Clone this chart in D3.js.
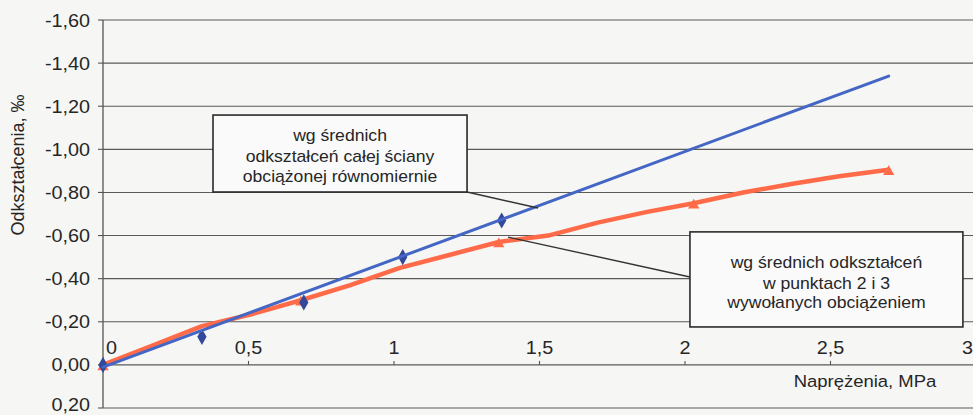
<!DOCTYPE html>
<html><head><meta charset="utf-8">
<script src="https://cdn.jsdelivr.net/npm/d3@7"></script>
<style>
html,body{margin:0;padding:0;background:#f6f6f4;}
svg{display:block;}
text{font-family:"Liberation Sans",Arial,sans-serif;fill:#262626;}
</style></head>
<body>
<svg id="c" width="973" height="415"></svg>
<script>
// ---- data ----
const xTicks = [0, 0.5, 1, 1.5, 2, 2.5, 3];
const xTickLabels = ["0", "0,5", "1", "1,5", "2", "2,5", "3"];
const yTicks = [-1.6, -1.4, -1.2, -1.0, -0.8, -0.6, -0.4, -0.2, 0, 0.2];
const yTickLabels = ["-1,60", "-1,40", "-1,20", "-1,00", "-0,80", "-0,60", "-0,40", "-0,20", "0,00", "0,20"];

const blueStress = [0, 0.34, 0.69, 1.03, 1.37];
const blueStrain = [0, -0.13, -0.29, -0.50, -0.67];
const blueTrendStress = [0, 2.70];
const blueTrendStrain = [0.01, -1.34];

const orangeStress = [0, 0.17, 0.34, 0.51, 0.68, 0.85, 1.02, 1.19, 1.36, 1.53, 1.70, 1.87, 2.03, 2.20, 2.37, 2.53, 2.70];
const orangeStrain = [0, -0.09, -0.18, -0.235, -0.30, -0.37, -0.45, -0.51, -0.57, -0.60, -0.66, -0.71, -0.75, -0.80, -0.84, -0.875, -0.905];
const orangeMarkerIdx = [0, 4, 8, 12, 16];

const xTitle = "Naprężenia, MPa";
const yTitle = "Odkształcenia, ‰";
const box1Lines = ["wg średnich", "odkształceń całej ściany", "obciążonej równomiernie"];
const box2Lines = ["wg średnich odkształceń", "w punktach 2 i 3", "wywołanych obciążeniem"];

// ---- layout ----
const svg = d3.select("#c");
const x = d3.scaleLinear().domain([0, 3]).range([103, 976]);
const y = d3.scaleLinear().domain([-1.6, 0.2]).range([20, 408]);
const SX = 1.1; // horizontal stretch of scanned text

function stxt(g, px, py, str, size, anchor) {
  return g.append("text")
    .attr("transform", `translate(${px},${py}) scale(${SX},1)`)
    .attr("text-anchor", anchor || "middle")
    .style("font-size", size + "px")
    .text(str);
}

// gridlines
svg.append("g").selectAll("line").data(yTicks).join("line")
  .attr("x1", x(0)).attr("x2", 973)
  .attr("y1", d => y(d)).attr("y2", d => y(d))
  .attr("stroke", "#5a5a5a").attr("stroke-width", 1.1);

// y axis line + ticks
svg.append("line").attr("x1", x(0)).attr("x2", x(0)).attr("y1", y(-1.6)).attr("y2", y(0.2))
  .attr("stroke", "#555").attr("stroke-width", 1.3);
svg.append("g").selectAll("line").data(yTicks).join("line")
  .attr("x1", x(0) - 5).attr("x2", x(0)).attr("y1", d => y(d)).attr("y2", d => y(d))
  .attr("stroke", "#555").attr("stroke-width", 1.1);

// x ticks on zero line
svg.append("g").selectAll("line").data(xTicks).join("line")
  .attr("x1", d => x(d)).attr("x2", d => x(d)).attr("y1", y(0) - 4).attr("y2", y(0))
  .attr("stroke", "#555").attr("stroke-width", 1.1);

// y tick labels
const gy = svg.append("g");
yTicks.forEach((d, i) => stxt(gy, 90, Math.min(y(d) + 6.5, 411), yTickLabels[i], 18, "end"));

// x tick labels
const gx = svg.append("g");
xTicks.forEach((d, i) => {
  if (i === 0) stxt(gx, x(d) + 3, y(0) - 11, xTickLabels[i], 18, "start");
  else if (i === xTicks.length - 1) stxt(gx, 973, y(0) - 11, xTickLabels[i], 18, "end");
  else stxt(gx, x(d), y(0) - 11, xTickLabels[i], 18, "middle");
});

// axis titles
stxt(svg, 865, 387, xTitle, 16.8, "middle");
svg.append("text").attr("transform", "translate(24,165) rotate(-90)")
  .attr("text-anchor", "middle").style("font-size", "18px").text(yTitle);

// orange series
const orangePts = orangeStress.map((s, i) => [s, orangeStrain[i]]);
svg.append("path").datum(orangePts)
  .attr("d", d3.line().x(d => x(d[0])).y(d => y(d[1])))
  .attr("fill", "none").attr("stroke", "#ff6a48").attr("stroke-width", 4.5)
  .attr("stroke-linejoin", "round");
const tri = d3.symbol().type(d3.symbolTriangle).size(55);
svg.append("g").selectAll("path").data(orangeMarkerIdx).join("path")
  .attr("transform", i => `translate(${x(orangeStress[i])},${y(orangeStrain[i]) + 2})`)
  .attr("d", tri).attr("fill", "#ff6a48");

// blue markers
const dia = d3.symbol().type(d3.symbolDiamond).size(75);
svg.append("g").selectAll("path").data(blueStress).join("path")
  .attr("transform", (d, i) => `translate(${x(d)},${y(blueStrain[i])})`)
  .attr("d", dia).attr("fill", "#34489a");

// blue trend line
svg.append("line")
  .attr("x1", x(blueTrendStress[0])).attr("y1", y(blueTrendStrain[0]))
  .attr("x2", x(blueTrendStress[1])).attr("y2", y(blueTrendStrain[1]))
  .attr("stroke", "#4466c4").attr("stroke-width", 3).attr("stroke-linecap", "round");

// annotation boxes (data coordinates)
function box(x0, x1, yTop, yBot, lines, lineY, leader) {
  const g = svg.append("g");
  g.append("line")
    .attr("x1", x(leader[0])).attr("y1", y(leader[1]))
    .attr("x2", x(leader[2])).attr("y2", y(leader[3]))
    .attr("stroke", "#333").attr("stroke-width", 1.4);
  g.append("rect").attr("x", x(x0)).attr("y", y(yTop))
    .attr("width", x(x1) - x(x0)).attr("height", y(yBot) - y(yTop))
    .attr("fill", "#fafafa").attr("stroke", "#2a2a2a").attr("stroke-width", 1.6);
  const cx = (x(x0) + x(x1)) / 2;
  lines.forEach((t, i) => stxt(g, cx, lineY[i], t, 16, "middle"));
}
box(0.378, 1.251, -1.159, -0.802, box1Lines, [141, 162, 182], [1.251, -0.802, 1.495, -0.728]);
box(2.017, 2.955, -0.617, -0.176, box2Lines, [268, 289, 308], [1.392, -0.593, 2.017, -0.408]);
</script>
</body></html>
